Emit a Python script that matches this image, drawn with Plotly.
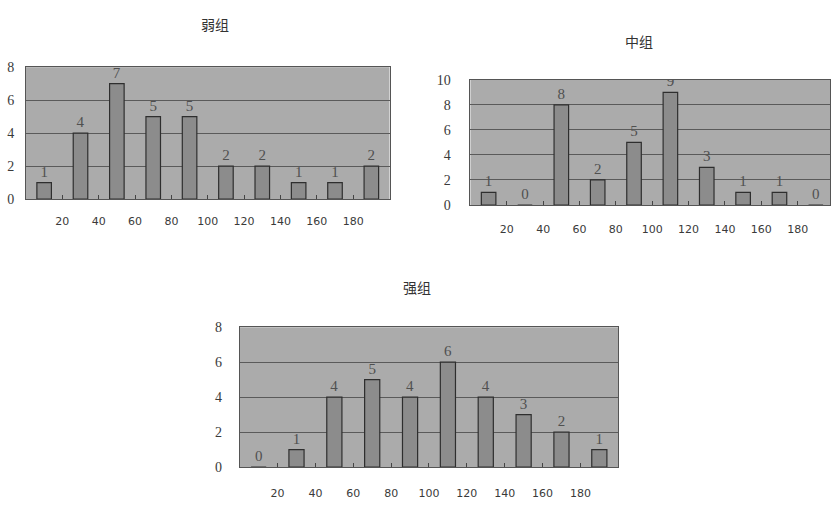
import plotly.graph_objects as go

# bins of width 20: centres 10..190, boundaries labelled 20..180
bin_centers = [10, 30, 50, 70, 90, 110, 130, 150, 170, 190]
tick_vals = [20, 40, 60, 80, 100, 120, 140, 160, 180]
tick_text = ["20", "40", "60", "80", "100", "120", "140", "160", "180"]

weak = [1, 4, 7, 5, 5, 2, 2, 1, 1, 2]
middle = [1, 0, 8, 2, 5, 9, 3, 1, 1, 0]
strong = [0, 1, 4, 5, 4, 6, 4, 3, 2, 1]

titles = ["弱组", "中组", "强组"]

W, H = 831, 509
PLOT_BG = "#ababab"
BAR = "#8c8c8c"
EDGE = "#2e2e2e"
GRID = "#5a5a5a"
TXT = "#3a3a3a"

fig = go.Figure()

panels = [
    # values, xdom(px), ydom(px top,bottom), yrange, xrange max, title pos, x standoff, y standoff
    (weak, (26, 390), (62, 198), 8, 200, (215, 18), 12, 8),
    (middle, (471, 831), (75, 204), 10, 200 * (831 - 471) / 364, (640, 35), 14, 16),
    (strong, (240, 619), (330, 474), 8, 200, (418, 289), 16, 14),
]

for i, (vals, xd, yd, ymax, xmax, tpos, xs, ys) in enumerate(panels):
    n = "" if i == 0 else str(i + 1)
    fig.add_trace(go.Bar(
        x=bin_centers, y=vals, width=8,
        marker=dict(color=BAR, line=dict(color=EDGE, width=1.2)),
        text=[str(v) for v in vals], textposition="outside",
        textfont=dict(family="Liberation Serif", size=15, color="#505050"),
        xaxis="x" + n, yaxis="y" + n, showlegend=False,
    ))
    fig.update_layout(**{
        "xaxis" + n: dict(
            domain=[xd[0] / W, xd[1] / W], range=[0, xmax],
            tickmode="array", tickvals=tick_vals, ticktext=tick_text,
            ticks="inside", ticklen=4, tickcolor="#444", tickwidth=1,
            ticklabelstandoff=xs,
            showgrid=False, zeroline=False,
            showline=True, linecolor="#555", linewidth=1, mirror=True,
            tickfont=dict(family="DejaVu Sans", size=11, color=TXT),
            anchor="y" + n, fixedrange=True,
        ),
        "yaxis" + n: dict(
            domain=[1 - yd[1] / H, 1 - yd[0] / H], range=[0, ymax],
            dtick=2, tick0=0,
            showgrid=True, gridcolor=GRID, gridwidth=1.3,
            zeroline=False, ticks="",
            ticklabelstandoff=ys,
            showline=True, linecolor="#555", linewidth=1, mirror=True,
            tickfont=dict(family="Liberation Serif", size=14, color=TXT),
            anchor="x" + n, fixedrange=True,
        ),
    })
    fig.add_annotation(
        x=tpos[0] / W, y=1 - tpos[1] / H, xref="paper", yref="paper",
        xanchor="center", yanchor="middle",
        text=titles[i], showarrow=False,
        font=dict(family="Noto Sans CJK SC", size=14, color="#333"),
    )

fig.update_layout(
    width=W, height=H,
    margin=dict(l=0, r=0, t=0, b=0),
    paper_bgcolor="white", plot_bgcolor=PLOT_BG,
    bargap=0.6,
)

fig.write_html("out.html")
